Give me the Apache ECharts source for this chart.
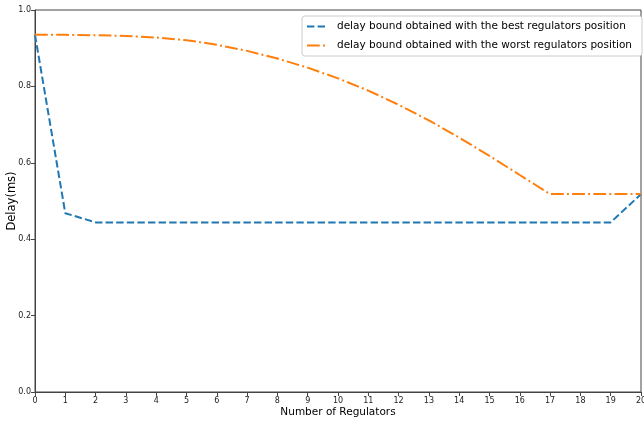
<!DOCTYPE html>
<html>
<head>
<meta charset="utf-8">
<script src="https://cdn.jsdelivr.net/npm/echarts@6/dist/echarts.min.js"></script>
<style>html,body{margin:0;padding:0;background:#fff}#c{width:644px;height:424px}</style>
</head>
<body>
<div id="c"></div>
<script>
const xValues = [0,1,2,3,4,5,6,7,8,9,10,11,12,13,14,15,16,17,18,19,20];
const bestDelay = [0.935,0.468,0.444,0.444,0.444,0.444,0.444,0.444,0.444,0.444,0.444,0.444,0.444,0.444,0.444,0.444,0.444,0.444,0.444,0.444,0.518];
const worstDelay = [0.935,0.935,0.934,0.932,0.928,0.921,0.909,0.893,0.873,0.849,0.821,0.789,0.752,0.711,0.666,0.618,0.568,0.518,0.518,0.518,0.518];
const seriesNames = ['delay bound obtained with the best regulators position','delay bound obtained with the worst regulators position'];

const chart = echarts.init(document.getElementById('c'), null, {renderer:'canvas'});
const font = 'DejaVu Sans';
const axisLine = {show:true, lineStyle:{color:'#444', width:1}};
chart.setOption({
  animation:false,
  backgroundColor:'#fff',
  grid:{left:35, right:3, top:10, bottom:32, containLabel:false, outerBoundsMode:'none', show:true, borderColor:'#444', borderWidth:1, backgroundColor:'transparent'},
  legend:{
    right:2, top:16, orient:'vertical', itemWidth:21, itemHeight:10, itemGap:8,
    backgroundColor:'#fff', borderColor:'#ccc', borderWidth:1, borderRadius:3, padding:[5,10,5,4],
    textStyle:{fontFamily:font, fontSize:10.5, color:'#000', padding:[0,0,0,4]},
    itemStyle:{opacity:0},
    data: seriesNames
  },
  xAxis:{
    type:'value', min:0, max:20, interval:1,
    name:'Number of Regulators', nameLocation:'middle', nameGap:14.5, nameMoveOverlap:false,
    nameTextStyle:{fontFamily:font, fontSize:10.5, color:'#000'},
    axisLine:axisLine, axisTick:{show:true, length:4, lineStyle:{color:'#444'}},
    axisLabel:{fontFamily:font, fontSize:8, color:'#222', margin:5},
    splitLine:{show:false}
  },
  yAxis:{
    type:'value', min:0, max:1, interval:0.2,
    name:'Delay(ms)', nameLocation:'middle', nameGap:17, nameRotate:90, nameMoveOverlap:false,
    nameTextStyle:{fontFamily:font, fontSize:11.5, color:'#000'},
    axisLine:axisLine, axisTick:{show:true, length:4, lineStyle:{color:'#444'}},
    axisLabel:{fontFamily:font, fontSize:8, color:'#222', margin:4, formatter:v=>v.toFixed(1)},
    splitLine:{show:false}
  },
  series:[
    {name:seriesNames[0], type:'line', symbol:'none', data:xValues.map((x,i)=>[x,bestDelay[i]]),
     lineStyle:{color:'#1f77b4', width:2, type:[7.4,3.2]}, itemStyle:{color:'#1f77b4'}},
    {name:seriesNames[1], type:'line', symbol:'none', data:xValues.map((x,i)=>[x,worstDelay[i]]),
     lineStyle:{color:'#ff7f0e', width:2, type:[12.8,3.2,2,3.2]}, itemStyle:{color:'#ff7f0e'}}
  ]
});
</script>
</body>
</html>
